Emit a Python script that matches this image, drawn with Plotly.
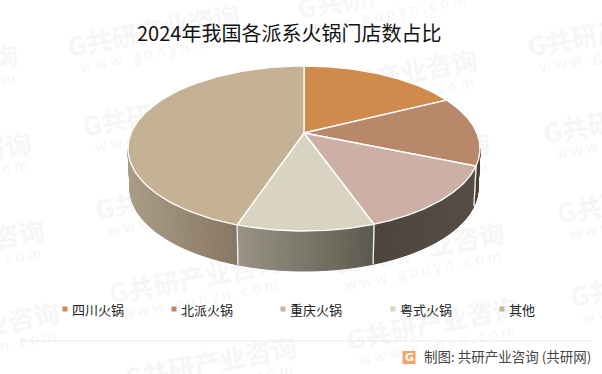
import numpy as np
import plotly.graph_objects as go

categories = ["四川火锅", "北派火锅", "重庆火锅", "粤式火锅", "其他"]
shares = [17.6, 13.7, 13.3, 10.55, 44.85]
top_colors = ["#D08A4C", "#B9886B", "#CDB0A5", "#D9D4C2", "#C5B294"]
wall_left = ["#4A4038", "#4A4038", "#4F453F", "#9A9486", "#AB9D87"]
wall_right = ["#4A4038", "#4A4038", "#564D46", "#5C5A4F", "#877763"]
legend_x = [65, 174, 283, 393, 502]
title_text = "2024年我国各派系火锅门店数占比"
source_text = "制图: 共研产业咨询 (共研网)"
watermark_cn = "G共研产业咨询"
watermark_en = "w w w . g o n y n . c o m"
watermark_pos = [(-156, 90), (-143, 178), (-130, 265), (-115, 348),
                 (65, 50), (80, 130), (93, 213), (107, 297), (122, 382),
                 (295, 12), (303, 95), (316, 178), (330, 268), (344, 343),
                 (525, 50), (541, 137), (555, 217), (568, 300)]

CX, CY, R, A, K, DEPTH = 304, 133, 172.9, 79.6, 0.188, 40
FONT = "Noto Sans CJK SC"


def proj(theta, drop=0.0):
    """Map pie angle (degrees clockwise from 12 o'clock) to the tilted disc."""
    t = np.radians(theta)
    u, v = np.sin(t), np.cos(t)
    w = 1 + K * v
    shrink = 1 - 0.012 * (drop > 0)
    return CX + shrink * R * u / w, CY - A * v / w + drop


def hex2rgb(h):
    return np.array([int(h[i:i + 2], 16) for i in (1, 3, 5)], float)


edges = np.concatenate([[0], np.cumsum(shares) / np.sum(shares) * 360])
VIS_START, VIS_END = 101.0, 259.0
fig = go.Figure()

# side walls, as narrow strips shaded left to right
for i in range(len(categories)):
    a0, a1 = max(edges[i], VIS_START), min(edges[i + 1], VIS_END)
    if a1 <= a0:
        continue
    steps = np.linspace(a0, a1, int((a1 - a0) * 1.2) + 2)
    xl = proj(a1)[0]
    xr = proj(a0)[0]
    c0, c1 = hex2rgb(wall_left[i]), hex2rgb(wall_right[i])
    for s0, s1 in zip(steps[:-1], steps[1:]):
        fx = (proj((s0 + s1) / 2)[0] - xl) / max(xr - xl, 1)
        c = c0 + (c1 - c0) * fx
        col = "rgb(%d,%d,%d)" % tuple(c)
        xt0, yt0 = proj(s0)
        xt1, yt1 = proj(s1)
        xb0, yb0 = proj(s0, DEPTH)
        xb1, yb1 = proj(s1, DEPTH)
        fig.add_trace(go.Scatter(x=[xt0, xt1, xb1, xb0, xt0], y=[yt0, yt1, yb1, yb0, yt0],
                                 mode="lines", fill="toself", fillcolor=col,
                                 line=dict(color=col, width=1), hoverinfo="skip", showlegend=False))
    # white divider between wall faces
    for a in (a0, a1):
        if VIS_START < a < VIS_END:
            xt, yt = proj(a)
            xb, yb = proj(a, DEPTH)
            fig.add_trace(go.Scatter(x=[xt, xb], y=[yt, yb], mode="lines",
                                     line=dict(color="#EFEFEF", width=1.3),
                                     hoverinfo="skip", showlegend=False))

# top faces
for i, name in enumerate(categories):
    th = np.linspace(edges[i], edges[i + 1], 90)
    xs, ys = proj(th)
    fig.add_trace(go.Scatter(x=np.r_[CX, xs, CX], y=np.r_[CY, ys, CY], mode="lines", fill="toself",
                             fillcolor=top_colors[i], line=dict(color="#FFFFFF", width=1.3),
                             name=name, hovertemplate=name + ": %{text}%<extra></extra>",
                             text=[shares[i]] * (len(th) + 2), showlegend=False))

# legend
fig.add_trace(go.Scatter(x=legend_x, y=[309] * 5, mode="markers",
                         marker=dict(symbol="square", size=5, color=top_colors),
                         hoverinfo="skip", showlegend=False))

# rule and logo
fig.add_trace(go.Scatter(x=[20, 592], y=[341, 341], mode="lines", line=dict(color="#E8E8E8", width=1),
                         hoverinfo="skip", showlegend=False))
fig.add_trace(go.Scatter(x=[409], y=[357.5], mode="markers",
                         marker=dict(symbol="square", size=13, color="#F6A365"),
                         hoverinfo="skip", showlegend=False))

# watermark sits under the pie, so it goes in below-layer shape labels
shapes = []
for x, y in watermark_pos:
    cx, cy = x + 89, y - 17
    shapes.append(dict(type="rect", xref="x", yref="y", x0=cx - 100, x1=cx + 100, y0=cy - 15, y1=cy + 15,
                       line=dict(width=0), fillcolor="rgba(0,0,0,0)", layer="below",
                       label=dict(text="<b>" + watermark_cn + "</b>", textangle=-11, textposition="middle center",
                                  font=dict(family=FONT, size=26, color="#F6F6F6"))))
    ex, ey = cx + 4, cy + 20
    shapes.append(dict(type="rect", xref="x", yref="y", x0=ex - 100, x1=ex + 100, y0=ey - 10, y1=ey + 10,
                       line=dict(width=0), fillcolor="rgba(0,0,0,0)", layer="below",
                       label=dict(text=watermark_en, textangle=-11, textposition="middle center",
                                  font=dict(family=FONT, size=15, color="#F5F5F5"))))

ann = []
ann.append(dict(x=289, y=32, text=title_text, showarrow=False, xanchor="center", yanchor="middle",
                font=dict(family=FONT, size=20, color="#111111")))
for x, name in zip(legend_x, categories):
    ann.append(dict(x=x + 5, y=309, text=name, showarrow=False, xanchor="left", yanchor="middle",
                    font=dict(family=FONT, size=13, color="#222222")))
ann.append(dict(x=409, y=357.5, text="<b>G</b>", showarrow=False, font=dict(family="DejaVu Sans", size=11, color="#FFFFFF")))
ann.append(dict(x=422, y=356, text=source_text, showarrow=False, xanchor="left", yanchor="middle",
                font=dict(family=FONT, size=13.5, color="#444444")))

fig.update_layout(width=602, height=374, margin=dict(l=0, r=0, t=0, b=0),
                  paper_bgcolor="#FFFFFF", plot_bgcolor="#FFFFFF", annotations=ann, shapes=shapes,
                  xaxis=dict(range=[0, 602], visible=False, fixedrange=True),
                  yaxis=dict(range=[374, 0], visible=False, fixedrange=True))
fig.write_html("out.html", config={"displayModeBar": False},
               post_script="document.body.style.margin='0';document.body.style.overflow='hidden';")
